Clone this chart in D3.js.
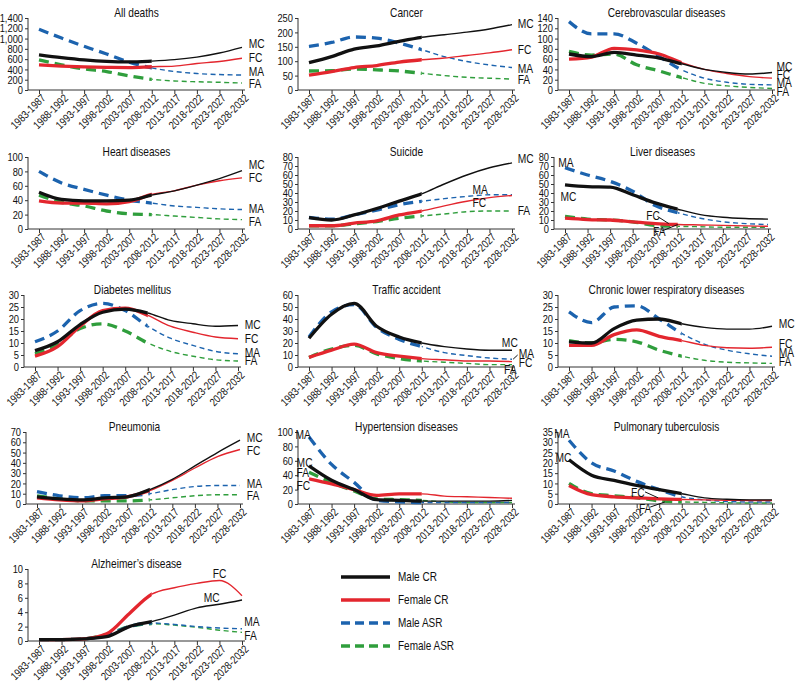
<!DOCTYPE html>
<html><head><meta charset="utf-8">
<script src="https://cdn.jsdelivr.net/npm/d3@7"></script>
<style>
body{margin:0;background:#fff}
text{font-family:"Liberation Sans",Arial,sans-serif;fill:#111}
</style>
</head><body>
<svg id="c" width="795" height="685"></svg>
<script>
// ---------- DATA ----------
const periods = ["1983-1987","1988-1992","1993-1997","1998-2002","2003-2007","2008-2012","2013-2017","2018-2022","2023-2027","2028-2032"];
const observedCount = 6;
const seriesKeys = ["FA","MA","FC","MC"];
const legendNames = ["Male CR","Female CR","Male ASR","Female ASR"];
const legendKeys = ["MC","FC","MA","FA"];

const allDeaths = {
  MC:[684,630,585,555,545,562,590,640,720,830],
  FC:[488,465,450,440,436,452,465,515,555,618],
  MA:[1180,1010,850,700,540,430,360,320,300,290],
  FA:[586,488,410,358,273,208,176,160,150,135]};
const cancer = {
  MC:[95,116,142,153,169,183,192,201,212,227],
  FC:[52,64,78,85,97,105,111,120,129,140],
  MA:[151,165,184,180,163,140,116,99,87,78],
  FA:[66,67,73,70,66,58,50,44,41,38]};
const cerebro = {
  MC:[70,65,73,68,62,51,40,34,31,34],
  FC:[60,64,81,78,70,53,40,32,26,23],
  MA:[133,109,109,91,65,39,23,15,11,10],
  FA:[75,68,70,49,37,24,13,8,5,3]};
const heart = {
  MC:[51,41,39,39,40,47,53,61,70,81],
  FC:[39,36,36,35,38,48,53,61,67,71],
  MA:[80,64,55,47,40,36,32,30,28,27],
  FA:[47,37,32,25,21,20,18,16,14,13]};
const suicide = {
  MC:[12.7,10,15.6,22.8,31,39,50,60,68,73.5],
  FC:[3.6,3.6,6.5,9,15.6,20,25.7,30.8,34.8,37.3],
  MA:[13,10.9,15.6,21,27,30.8,33.7,36.2,38,38],
  FA:[3.6,3.6,5.8,8.3,12,14.5,16.7,19.2,20,20]};
const liver = {
  MC:[49,47,46.5,38,29,22,16,13,11.6,11],
  FC:[12,10.5,10,8,6,5,4.5,4,3.5,3],
  MA:[68,60,53,42,26,18,12,8,6,5],
  FA:[14,11,10,8,4,3,2.5,2,2,2]};
const diabetes = {
  MC:[6.8,10.5,17.7,22.8,24.1,22.5,19.4,18,17,17.3],
  FC:[4.5,8.5,17,23.5,24.5,21.5,17,14.5,12.5,11.8],
  MA:[10.5,15,23.5,26.5,23.5,17,12,9,6.5,5.5],
  FA:[5.5,9.5,16,18,15,10,6.5,4.5,3,2.5]};
const traffic = {
  MC:[24,44,53,34,25,20,17,15,14,14],
  FC:[8,14,19,12,9,7,6,5,5,4.5],
  MA:[25,46,52,33,23,17,12,9.5,7.5,6.5],
  FA:[8,15,18,11,7,5,4,3,2,2]};
const chronic = {
  MC:[10.5,10,16,19.5,20,18,16.5,15.8,15.8,17],
  FC:[9,9,13.5,15.5,12.8,11,9,8,7.8,8.2],
  MA:[23,18.5,25,25.5,20,14,9.5,7,5.5,4.5],
  FA:[11,10,11.5,10.5,7,4.5,2.8,2,1.7,1.5]};
const pneumonia = {
  MC:[7,5,4,6,7,14,24,37,50,62],
  FC:[6,4,3,5,7,13,23,35,46,53],
  MA:[12,8,6,8,8,10,14,17,18,18],
  FA:[8,5,3,3,3,4,6,8,9,9]};
const hypertension = {
  MC:[53,33,20,6,5,4,4,4,4,5],
  FC:[35,28,20,12,14,14,11,10,9,8],
  MA:[93,55,30,5,3,2,2,2,2,2],
  FA:[44,30,18,7,6,5,3,2,2,2]};
const tuberculosis = {
  MC:[21.5,14,11.5,9,7,5,3,2.3,2,2],
  FC:[9,4.5,3.5,3,2.5,2.2,2,1.8,1.7,1.7],
  MA:[31,20,16,11,7,3.5,2,1.2,1,1],
  FA:[10,5,4,3,1.5,1,0.8,0.6,0.5,0.5]};
const alzheimer = {
  MC:[0.2,0.2,0.3,0.6,2.0,2.7,3.6,4.6,5.1,5.7],
  FC:[0.2,0.2,0.3,1.0,3.8,6.5,7.4,8.0,8.4,6.3],
  MA:[0.2,0.2,0.3,0.8,2.0,2.5,2.3,2.0,1.8,1.7],
  FA:[0.2,0.2,0.3,0.9,2.0,2.4,2.2,1.9,1.5,1.2]};

// ---------- LAYOUT ----------
const colAxisX = [28,298,558];
const rowBase = [90,229,367,504,641];
const plotH = 72, firstOff = 11, lastOff = 214, axisEnd = 217;
const narrow = 0.82;   // horizontal condensing of the text face

// label entries: [key, period-index position, value, optional leader [i1,v1,i2,v2]]
const panels = [
 {title:"All deaths", d:allDeaths, max:1400, step:200, fmt:",", c:0, r:0,
  labels:[["MC",9.3,895],["FC",9.3,622],["MA",9.3,350],["FA",9.3,117]]},
 {title:"Cancer", d:cancer, max:250, step:50, c:1, r:0,
  labels:[["MC",9.25,229],["FC",9.25,139],["MA",9.25,76],["FA",9.25,35]]},
 {title:"Cerebrovascular diseases", d:cerebro, max:140, step:20, c:2, r:0,
  labels:[["MC",9.2,45],["FC",9.2,29],["MA",9.2,14],["FA",9.2,-4]]},
 {title:"Heart diseases", d:heart, max:100, step:20, c:0, r:1,
  labels:[["MC",9.3,89],["FC",9.3,71],["MA",9.3,28],["FA",9.3,10]]},
 {title:"Suicide", d:suicide, max:80, step:10, c:1, r:1,
  labels:[["MC",9.25,78],["MA",7.25,44],["FC",7.25,29],["FA",9.25,20]]},
 {title:"Liver diseases", d:liver, max:80, step:10, c:2, r:1, ax:554,
  labels:[["MA",-0.3,74],["MC",-0.2,36],["FC",3.6,15,[4.1,14,4.6,6]],["FA",3.9,-3.3,[4.3,-2.2,5.0,5]]]},
 {title:"Diabetes mellitus", d:diabetes, max:30, step:5, c:0, r:2, ax:24,
  labels:[["MC",9.3,17.8],["FC",9.3,11.8],["MA",9.3,6.1],["FA",9.3,2.8]]},
 {title:"Traffic accident", d:traffic, max:60, step:10, c:1, r:2,
  labels:[["MC",8.55,20.5],["MA",9.3,11.5,[9.05,6.5,9.25,10]],["FC",9.3,3.3],["FA",8.65,-2.5]]},
 {title:"Chronic lower respiratory diseases", d:chronic, max:30, step:5, c:2, r:2,
  labels:[["MC",9.3,18],["FC",9.3,9.9],["MA",9.3,6.2],["FA",9.3,2.1]]},
 {title:"Pneumonia", d:pneumonia, max:70, step:10, c:0, r:3, ax:26,
  labels:[["MC",9.3,65],["FC",9.3,52],["MA",9.3,20],["FA",9.3,8]]},
 {title:"Hypertension diseases", d:hypertension, max:100, step:20, c:1, r:3,
  labels:[["MA",-0.6,97],["MC",-0.55,58],["FA",-0.55,44],["FC",-0.55,25]]},
 {title:"Pulmonary tuberculosis", d:tuberculosis, max:35, step:5, c:2, r:3,
  labels:[["MA",-0.65,34],["MC",-0.6,22.7],["FC",2.75,5.4,[3.37,5.9,3.95,3.0]],["FA",3.1,-2.0,[3.6,-1.5,4.25,1]]]},
 {title:"Alzheimer\u2019s disease", d:alzheimer, max:10, step:2, c:0, r:4,
  labels:[["FC",7.7,9.4],["MC",7.3,6.0],["MA",9.1,2.7],["FA",9.1,0.7]]}
];

const styles = {
  MC:{color:"#111111", dash:null},
  FC:{color:"#e3262e", dash:null},
  MA:{color:"#1c63ae", dash:"dash"},
  FA:{color:"#2f9e3c", dash:"dash"}};
const thickW = 3.3, thinW = 1.4;
const dashThick = "10,6", dashThin = "5,3.5";

const legend = {x1:341, x2:390, tx:398, ys:[577,600,623,646]};

// ---------- DRAW ----------
const svg = d3.select("#c");
svg.append("rect").attr("width",795).attr("height",685).attr("fill","#fff");
const defs = svg.append("defs");

function ntext(g, x, y, txt, size, anchor, dy){
  return g.append("text")
    .attr("transform",`translate(${x},${y}) scale(${narrow},1)`)
    .attr("text-anchor",anchor).attr("font-size",size)
    .attr("dy",dy).text(txt);
}

panels.forEach((p, pi) => {
  const ax = p.ax !== undefined ? p.ax : colAxisX[p.c];
  const y0 = rowBase[p.r];
  const x = d3.scalePoint().domain(periods).range([ax+firstOff, ax+lastOff]);
  const xi = i => (ax+firstOff) + i*(lastOff-firstOff)/(periods.length-1);
  const y = d3.scaleLinear().domain([0,p.max]).range([y0, y0-plotH]);
  const g = svg.append("g");

  // title
  ntext(g, (ax+ax+axisEnd)/2, y0-plotH-1, p.title, 12.4, "middle", null);

  // y axis
  const ticks = d3.range(0, p.max+0.001, p.step);
  const fmt = p.fmt ? d3.format(p.fmt) : d3.format("");
  const yAxis = d3.axisLeft(y).tickValues(ticks).tickFormat(fmt).tickSize(3).tickPadding(2);
  const ya = g.append("g").attr("transform",`translate(${ax},0)`).call(yAxis);
  ya.select(".domain").attr("stroke","#333").attr("d",`M0,${y0}V${y0-plotH}`);
  ya.selectAll(".tick line").attr("stroke","#333");
  ya.selectAll("text").attr("font-size",11.4).attr("font-family",null).style("fill","#111")
    .attr("x",-5/narrow).attr("transform",`scale(${narrow},1)`);

  // x axis
  const xAxis = d3.axisBottom(x).tickSize(4).tickFormat("");
  const xa = g.append("g").attr("transform",`translate(0,${y0})`).call(xAxis);
  xa.select(".domain").attr("stroke","#333").attr("d",`M${ax},0H${ax+axisEnd}`);
  xa.selectAll(".tick line").attr("stroke","#333");
  xa.selectAll(".tick").append("text")
    .attr("transform",`translate(4,6) rotate(-45) scale(${narrow},1)`)
    .attr("text-anchor","end").attr("dy","0.35em")
    .attr("font-size",11.2).style("fill","#111")
    .text(d => d);

  // clips
  const xSplit = x(periods[observedCount-1]);
  defs.append("clipPath").attr("id",`obs${pi}`).append("rect")
    .attr("x",ax-60).attr("y",y0-plotH-30).attr("width",xSplit-(ax-60)).attr("height",plotH+60);
  defs.append("clipPath").attr("id",`proj${pi}`).append("rect")
    .attr("x",xSplit).attr("y",y0-plotH-30).attr("width",300).attr("height",plotH+60);

  const line = d3.line().x((v,i)=>x(periods[i])).y(v=>y(v)).curve(d3.curveMonotoneX);

  seriesKeys.forEach(k => {
    const st = styles[k];
    const vals = p.d[k];
    g.append("path").attr("d",line(vals)).attr("fill","none")
      .attr("stroke",st.color).attr("stroke-width",thickW)
      .attr("stroke-dasharray",st.dash ? dashThick : null)
      .attr("clip-path",`url(#obs${pi})`);
    g.append("path").attr("d",line(vals)).attr("fill","none")
      .attr("stroke",st.color).attr("stroke-width",thinW)
      .attr("stroke-dasharray",st.dash ? dashThin : null)
      .attr("clip-path",`url(#proj${pi})`);
  });

  // labels
  p.labels.forEach(l => {
    ntext(g, xi(l[1]), y(l[2]), l[0], 12.5, "start", "0.35em");
    if (l[3]) {
      const q = l[3];
      g.append("line").attr("x1",xi(q[0])).attr("y1",y(q[1]))
        .attr("x2",xi(q[2])).attr("y2",y(q[3]))
        .attr("stroke","#111").attr("stroke-width",1);
    }
  });
});

// legend
const lg = svg.append("g");
legendKeys.forEach((k,i) => {
  const st = styles[k];
  lg.append("line").attr("x1",legend.x1).attr("x2",legend.x2)
    .attr("y1",legend.ys[i]).attr("y2",legend.ys[i])
    .attr("stroke",st.color).attr("stroke-width",thickW)
    .attr("stroke-dasharray",st.dash ? "9,5" : null);
  ntext(lg, legend.tx, legend.ys[i], legendNames[i], 12.2, "start", "0.35em");
});
</script>
</body></html>
